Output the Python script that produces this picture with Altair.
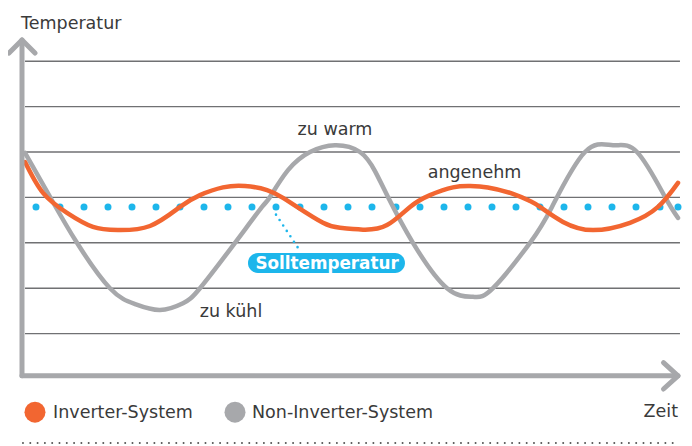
import altair as alt
import pandas as pd

# ---- data (time 0..100, temperature in grid units) ----
orange_t = [0.46, 3.20, 6.86, 10.82, 14.63, 19.51, 24.09, 27.13, 30.64, 33.99,
            37.35, 39.79, 41.92, 45.88, 48.48, 51.98, 55.64, 59.15, 62.20, 65.70,
            68.29, 71.0, 74.85, 77.44, 78.96, 82.47, 87.04, 92.68, 96.95, 100.0]
orange_v = [4.78, 4.10, 3.66, 3.35, 3.28, 3.37, 3.79, 4.05, 4.22, 4.25,
            4.16, 3.99, 3.79, 3.44, 3.33, 3.29, 3.39, 3.79, 4.05, 4.22,
            4.25, 4.22, 4.08, 3.92, 3.79, 3.46, 3.28, 3.44, 3.79, 4.32]

gray_t = [0.46, 4.27, 8.38, 13.41, 17.23, 21.04, 24.54, 27.13, 32.47, 36.59,
          37.80, 40.55, 43.90, 47.71, 51.52, 53.81, 55.79, 59.60, 64.79, 68.75,
          71.80, 77.44, 80.79, 85.82, 90.09, 93.75, 98.02, 100.0]
gray_v = [4.98, 4.01, 3.00, 2.00, 1.65, 1.52, 1.67, 2.00, 3.00, 3.79,
          4.01, 4.60, 5.00, 5.15, 5.00, 4.58, 4.01, 3.00, 2.00, 1.81,
          2.00, 3.00, 3.79, 5.00, 5.15, 5.00, 4.01, 3.55]

grid_levels = [1, 2, 3, 4, 5, 6, 7]
set_temp = 3.79

series_names = ["Inverter-System", "Non-Inverter-System"]
annotations = ["zu warm", "angenehm", "zu kühl"]
annot_t = [47.71, 68.98, 31.86]
annot_v = [5.37, 4.43, 1.37]

ORANGE = "#F26631"
GRAY = "#A7A8AB"
BLUE = "#1DB6EB"
GRID = "#707173"
TEXT = "#3a3a3a"
FONT = "DejaVu Sans"

XS = alt.Scale(domain=[-2.1341, 100.915], nice=False, zero=False)
YS = alt.Scale(domain=[-1.4758, 8.172], nice=False, zero=False)


def xe(f):
    return alt.X(f, type="quantitative", scale=XS, axis=None)


def ye(f):
    return alt.Y(f, type="quantitative", scale=YS, axis=None)


# grid
grid_df = pd.DataFrame({"v": grid_levels, "t0": 0.46, "t1": 100.3})
grid = alt.Chart(grid_df).mark_rule(color=GRID, strokeWidth=1.4).encode(
    x=xe("t0"), x2="t1", y=ye("v"))

# set temperature dotted line
sp_df = pd.DataFrame({"t0": [2.134], "t1": [100.0], "v": [set_temp]})
setline = alt.Chart(sp_df).mark_rule(
    color=BLUE, strokeWidth=7, strokeDash=[0, 24], strokeCap="round").encode(
    x=xe("t0"), x2="t1", y=ye("v"))
enddot = alt.Chart(sp_df).mark_point(
    filled=True, shape="circle", size=49, color=BLUE, opacity=1).encode(
    x=xe("t1"), y=ye("v"))

# curves
gray_df = pd.DataFrame({"t": gray_t, "v": gray_v})
orange_df = pd.DataFrame({"t": orange_t, "v": orange_v})
gray_line = alt.Chart(gray_df).mark_line(
    color=GRAY, strokeWidth=4.5, interpolate="natural", strokeCap="round").encode(
    x=xe("t"), y=ye("v"))
orange_line = alt.Chart(orange_df).mark_line(
    color=ORANGE, strokeWidth=4.5, interpolate="natural", strokeCap="round").encode(
    x=xe("t"), y=ye("v"))

# leader to label
lead_df = pd.DataFrame({"t0": [38.72], "v0": [3.62], "t1": [42.07], "v1": [2.89]})
leader = alt.Chart(lead_df).mark_rule(
    color=BLUE, strokeWidth=2.6, strokeDash=[0, 6.5], strokeCap="round").encode(
    x=xe("t0"), x2="t1", y=ye("v0"), y2="v1")

# label box
box_df = pd.DataFrame({"t0": [34.45], "t1": [58.38], "v0": [2.335], "v1": [2.775],
                       "tc": [46.5], "vb": [2.42], "label": ["Solltemperatur"]})
box = alt.Chart(box_df).mark_rect(color=BLUE, cornerRadius=10).encode(
    x=xe("t0"), x2="t1", y=ye("v0"), y2="v1")
box_text = alt.Chart(box_df).mark_text(
    font=FONT, fontSize=16.8, fontWeight="bold", color="white",
    align="center", baseline="alphabetic").encode(
    x=xe("tc"), y=ye("vb"), text="label")

# axes with arrows
yax_df = pd.DataFrame({"t": [0.0], "v0": [0.07], "v1": [7.467]})
yaxis = alt.Chart(yax_df).mark_rule(color=GRAY, strokeWidth=5, strokeCap="round").encode(
    x=xe("t"), y=ye("v0"), y2="v1")
xax_df = pd.DataFrame({"t0": [0.0], "t1": [100.0], "v": [0.07]})
xaxis = alt.Chart(xax_df).mark_rule(color=GRAY, strokeWidth=5, strokeCap="round").encode(
    x=xe("t0"), x2="t1", y=ye("v"))
yarrow_df = pd.DataFrame({"t": [-1.98, 0.0, 1.98], "v": [7.18, 7.467, 7.18], "o": [0, 1, 2]})
yarrow = alt.Chart(yarrow_df).mark_line(
    color=GRAY, strokeWidth=5, strokeCap="round", strokeJoin="round").encode(
    x=xe("t"), y=ye("v"), order="o")
xarrow_df = pd.DataFrame({"t": [97.79, 100.0, 97.79], "v": [0.36, 0.07, -0.22], "o": [0, 1, 2]})
xarrow = alt.Chart(xarrow_df).mark_line(
    color=GRAY, strokeWidth=5, strokeCap="round", strokeJoin="round").encode(
    x=xe("t"), y=ye("v"), order="o")

# bottom dotted separator
sep_df = pd.DataFrame({"t0": [0.15], "t1": [100.0], "v": [-1.41]})
sep = alt.Chart(sep_df).mark_rule(
    color="#555555", strokeWidth=2, strokeDash=[0, 7.3], strokeCap="round").encode(
    x=xe("t0"), x2="t1", y=ye("v"))

# texts
def text_layer(df, align):
    return alt.Chart(df).mark_text(
        font=FONT, fontSize=17.5, color=TEXT, align=align, baseline="alphabetic").encode(
        x=xe("t"), y=ye("v"), text="label")

left_txt = pd.DataFrame({"t": [-0.15, 4.73, 35.06], "v": [7.72, -0.866, -0.866],
                         "label": ["Temperatur", series_names[0], series_names[1]]})
center_txt = pd.DataFrame({"t": annot_t, "v": annot_v, "label": annotations})
right_txt = pd.DataFrame({"t": [100.0], "v": [-0.837], "label": ["Zeit"]})

leg_df = pd.DataFrame({"t": [1.98, 32.47], "v": [-0.73, -0.73], "s": series_names})
legend_pts = alt.Chart(leg_df).mark_point(filled=True, shape="circle", size=441, opacity=1).encode(
    x=xe("t"), y=ye("v"),
    color=alt.Color("s:N", scale=alt.Scale(domain=series_names, range=[ORANGE, GRAY]), legend=None))

chart = alt.layer(
    grid, setline, enddot, gray_line, orange_line, leader, box, box_text,
    yaxis, xaxis, yarrow, xarrow, sep,
    text_layer(left_txt, "left"), text_layer(center_txt, "center"), text_layer(right_txt, "right"),
    legend_pts,
).properties(width=676, height=438, padding=0, autosize=alt.AutoSizeParams(type="none")
).configure_view(stroke=None)

chart.save("out.html", embed_options={"renderer": "svg", "actions": False})
